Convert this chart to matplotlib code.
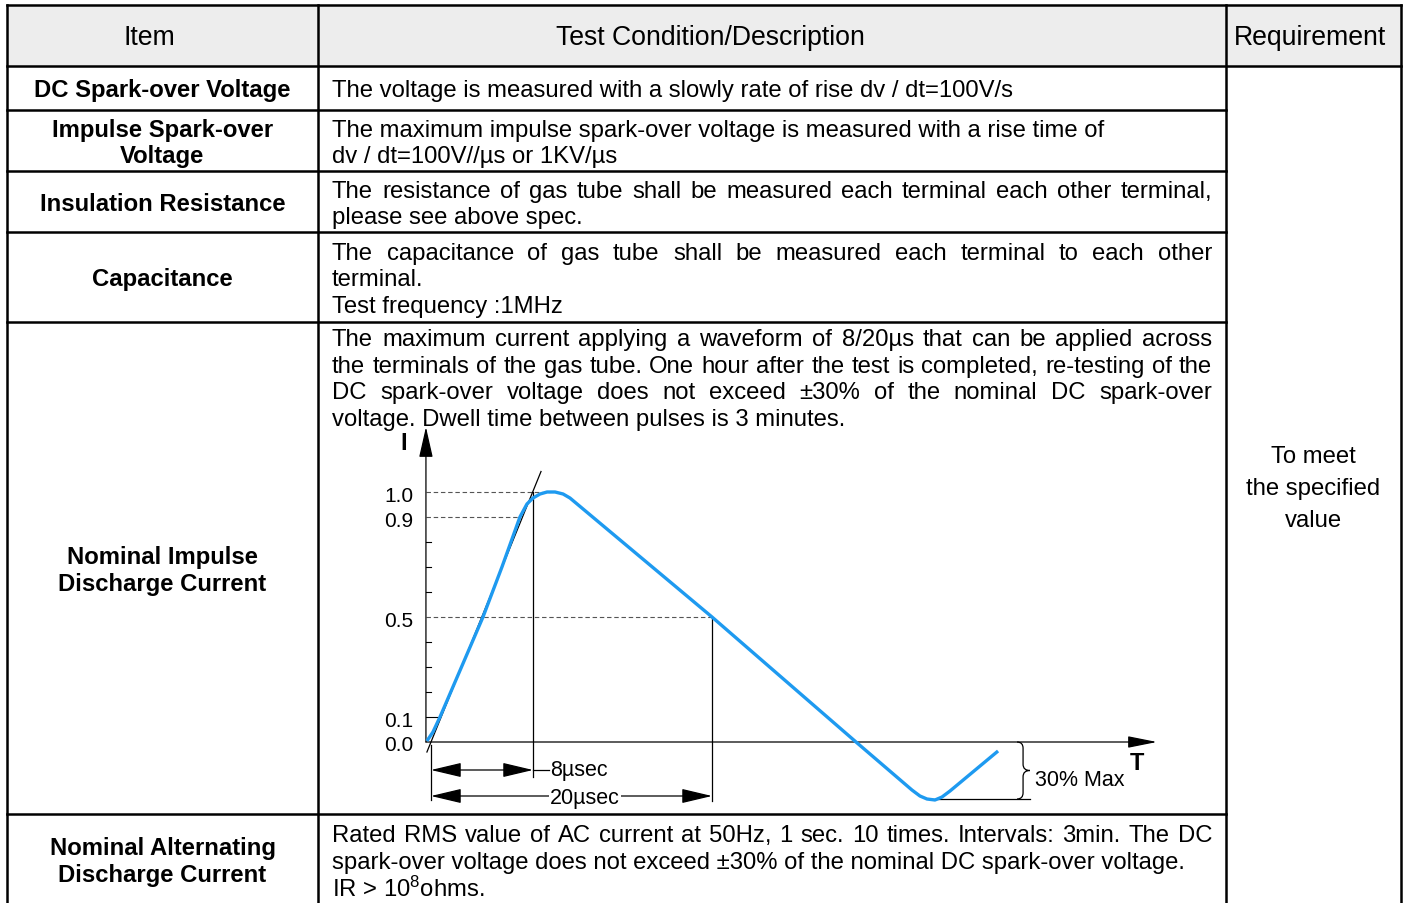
import matplotlib
matplotlib.use('Agg')
import matplotlib.pyplot as plt
from matplotlib.path import Path
from matplotlib.patches import PathPatch, Rectangle

plt.rcParams['font.family'] = ['Liberation Sans', 'DejaVu Sans']
plt.rcParams['mathtext.fontset'] = 'custom'
plt.rcParams['mathtext.rm'] = 'Liberation Sans'
plt.rcParams['mathtext.default'] = 'regular'

# table content
headers = ['Item', 'Test Condition/Description', 'Requirement']
items = [
    ['DC Spark-over Voltage'],
    ['Impulse Spark-over', 'Voltage'],
    ['Insulation Resistance'],
    ['Capacitance'],
    ['Nominal Impulse', 'Discharge Current'],
    ['Nominal Alternating', 'Discharge Current'],
]
descriptions = [
    ['The voltage is measured with a slowly rate of rise dv / dt=100V/s'],
    ['The maximum impulse spark-over voltage is measured with a rise time of',
     'dv / dt=100V//\u00b5s or 1KV/\u00b5s'],
    ['The resistance of gas tube shall be measured each terminal each other terminal,',
     'please see above spec.'],
    ['The capacitance of gas tube shall be measured each terminal to each other',
     'terminal.',
     'Test frequency :1MHz'],
    ['The maximum current applying a waveform of 8/20\u00b5s that can be applied across',
     'the terminals of the gas tube. One hour after the test is completed, re-testing of the',
     'DC spark-over voltage does not exceed \u00b130% of the nominal DC spark-over',
     'voltage. Dwell time between pulses is 3 minutes.'],
    ['Rated RMS value of AC current at 50Hz, 1 sec. 10 times. Intervals: 3min. The DC',
     'spark-over voltage does not exceed \u00b130% of the nominal DC spark-over voltage.',
     'IR > 10$^{8}$ohms.'],
]
justified = [
    [False],
    [False, False],
    [True, False],
    [True, False, False],
    [True, True, True, False],
    [True, False, False],
]
requirement = ['To meet', 'the specified', 'value']

# 8/20 us impulse waveform (schematic: t in us, current relative to peak)
pulse_t = [-0.29, 0.14, 0.64, 2.14, 3.70, 5.05, 6.33, 6.83, 7.26, 7.76, 8.26, 8.83,
           9.40, 9.89, 20.0, 30.25, 34.23, 34.80, 35.30, 35.87, 36.37, 36.94, 40.36]
pulse_i = [0.004, 0.04, 0.10, 0.296, 0.50, 0.70, 0.90, 0.952, 0.976, 0.992, 1.0, 1.0,
           0.992, 0.976, 0.50, 0.0, -0.192, -0.216, -0.228, -0.232, -0.22, -0.196, -0.036]
tangent_t = [-0.29, 7.83]
tangent_i = [-0.04, 1.082]
levels = [0.1, 0.5, 0.9, 1.0]
level_labels = ['0.1', '0.5', '0.9', '1.0']
level_ends = [0.64, 20.0, 6.33, 8.5]
minor_ticks = [0.2, 0.3, 0.4, 0.6, 0.7, 0.8]
t_front = 7.26
t_half = 20.0
overshoot = -0.228

W, H = 1407, 904
fig = plt.figure(figsize=(W / 100, H / 100), dpi=100)
ax = fig.add_axes([0, 0, 1, 1])
ax.set_xlim(0, W)
ax.set_ylim(H, 0)
ax.axis('off')

col_x = [7, 318, 1226, 1401]
row_y = [6, 67, 111, 172, 233, 323, 815, 906]
LW = 1.8
FS = 17.2
DY = 2.0  # va='center' sits a little high for text without descenders

# grid
ax.add_patch(Rectangle((col_x[0], row_y[0]), col_x[3] - col_x[0], row_y[1] - row_y[0],
                       facecolor='#EDEDED', edgecolor='none', zorder=0))
ax.plot([col_x[0], col_x[3]], [row_y[0]] * 2, color='black', lw=LW)
ax.plot([col_x[0], col_x[3]], [row_y[1]] * 2, color='black', lw=LW)
for y in row_y[2:-1]:
    ax.plot([col_x[0], col_x[2]], [y, y], color='black', lw=LW)
for x in col_x:
    ax.plot([x, x], [row_y[0], H], color='black', lw=LW)

# headers
for h, cx in zip(headers, [149, 710, 1310]):
    ax.text(cx, 36 + DY, h, ha='center', va='center', fontsize=19.2)

renderer = fig.canvas.get_renderer()


def put_line(text, x, y, width=None):
    y = y + DY
    if width is None:
        ax.text(x, y, text, ha='left', va='center', fontsize=FS)
        return
    words = text.split(' ')
    objs = [ax.text(0, y, w, ha='left', va='center', fontsize=FS) for w in words]
    widths = [o.get_window_extent(renderer).width for o in objs]
    gap = (width - sum(widths)) / (len(words) - 1)
    cx = x
    for o, w in zip(objs, widths):
        o.set_x(cx)
        cx += w + gap


LINE = 26.6
for k in range(len(items)):
    top, bot = row_y[k + 1], row_y[k + 2]
    mid = (top + bot) / 2
    n = len(items[k])
    for j, s in enumerate(items[k]):
        ax.text((col_x[0] + col_x[1]) / 2, mid + (j - (n - 1) / 2) * 27 + DY, s,
                ha='center', va='center', fontsize=FS, fontweight='bold')
    lines = descriptions[k]
    m = len(lines)
    for j, s in enumerate(lines):
        if k == 4:
            y = top + 15 + j * LINE          # text sits on top of the waveform
        else:
            y = mid + 0.5 + (j - (m - 1) / 2) * LINE
        put_line(s, 332, y, 1212 - 332 if justified[k][j] else None)

for j, s in enumerate(requirement):
    ax.text((col_x[2] + col_x[3]) / 2, 455 + j * 32 + DY, s, ha='center', va='center',
            fontsize=FS)

# waveform chart, placed on the page in pixel units
T0_PX, PX_PER_US, I0_PX, PX_PER_I = 431, 14.05, 743, 250
bx0, by0, bx1, by1 = 370, 420, 1190, 815
cax = fig.add_axes([bx0 / W, 1 - by1 / H, (bx1 - bx0) / W, (by1 - by0) / H])
cax.set_xlim((bx0 - T0_PX) / PX_PER_US, (bx1 - T0_PX) / PX_PER_US)
cax.set_ylim((I0_PX - by1) / PX_PER_I, (I0_PX - by0) / PX_PER_I)
cax.axis('off')

axis_t = -0.36
t_end = 51.67
i_top = 1.26
CFS = 15.5
DI = DY / PX_PER_I


def arrow(ax_, start, end, style):
    ax_.annotate('', xy=end, xytext=start,
                 arrowprops=dict(arrowstyle=style, mutation_scale=1, lw=0.9,
                                 color='black', shrinkA=0, shrinkB=0))


arrow(cax, (axis_t, 0), (t_end, 0), '-|>,head_length=18,head_width=3.6')
arrow(cax, (axis_t, 0), (axis_t, i_top), '-|>,head_length=19,head_width=4.3')
cax.text(-1.92, 1.204 - DI, 'I', ha='center', va='center', fontsize=17, fontweight='bold')
cax.text(50.25, -0.076 - DI, 'T', ha='center', va='center', fontsize=17, fontweight='bold')

for v in minor_ticks:
    cax.plot([axis_t, axis_t + 0.36], [v, v], color='black', lw=0.8)
for v, lab, te in zip(levels, level_labels, level_ends):
    if v == 0.1:
        cax.plot([axis_t, te], [v, v], color='black', lw=0.8)
    else:
        cax.plot([axis_t, te], [v, v], color='#555555', lw=0.8, dashes=(4, 2.5))
    cax.annotate(lab, (axis_t, v), xytext=(-9, -2.2), textcoords='offset points',
                 ha='right', va='center', fontsize=15)
cax.annotate('0.0', (axis_t, 0), xytext=(-9, -1.5), textcoords='offset points',
             ha='right', va='center', fontsize=15)

cax.plot(tangent_t, tangent_i, color='black', lw=0.9)
cax.plot(pulse_t, pulse_i, color='#1E9AF0', lw=2.4, solid_capstyle='butt', zorder=3)

# time markers
cax.plot([0, 0], [-0.01, -0.23], color='black', lw=0.9)
cax.plot([t_front, t_front], [1.0, -0.14], color='black', lw=0.9)
cax.plot([t_half, t_half], [0.5, -0.236], color='black', lw=0.9)
arrow(cax, (0, -0.112), (t_front, -0.112), '<|-|>,head_length=19,head_width=4.5')
arrow(cax, (0, -0.216), (t_half, -0.216), '<|-|>,head_length=19,head_width=4.5')
cax.plot([t_front, 8.4], [-0.112, -0.112], color='black', lw=0.9)
cax.text(8.45, -0.103 - DI, '8\u00b5sec', ha='left', va='center', fontsize=CFS)
cax.text(10.96, -0.216 - DI, '20\u00b5sec', ha='center', va='center', fontsize=CFS, zorder=5,
         bbox=dict(facecolor='white', edgecolor='none', pad=0.5))

# overshoot brace
cax.plot([35.5, 42.6], [overshoot, overshoot], color='black', lw=0.9)
xl, xm, xt = 41.71, 42.14, 42.63
ym, r = overshoot / 2, 0.025
verts = [(xl, 0), (xm, 0), (xm, -r), (xm, ym + r), (xm, ym), (xt, ym),
         (xm, ym), (xm, ym - r), (xm, overshoot + r), (xm, overshoot), (xl, overshoot)]
codes = [Path.MOVETO, Path.CURVE3, Path.CURVE3, Path.LINETO, Path.CURVE3, Path.CURVE3,
         Path.CURVE3, Path.CURVE3, Path.LINETO, Path.CURVE3, Path.CURVE3]
cax.add_patch(PathPatch(Path(verts, codes), facecolor='none', edgecolor='black', lw=0.9))
cax.text(42.99, -0.14 - DI, '30% Max', ha='left', va='center', fontsize=CFS)

fig.savefig('out.png', dpi=100)
